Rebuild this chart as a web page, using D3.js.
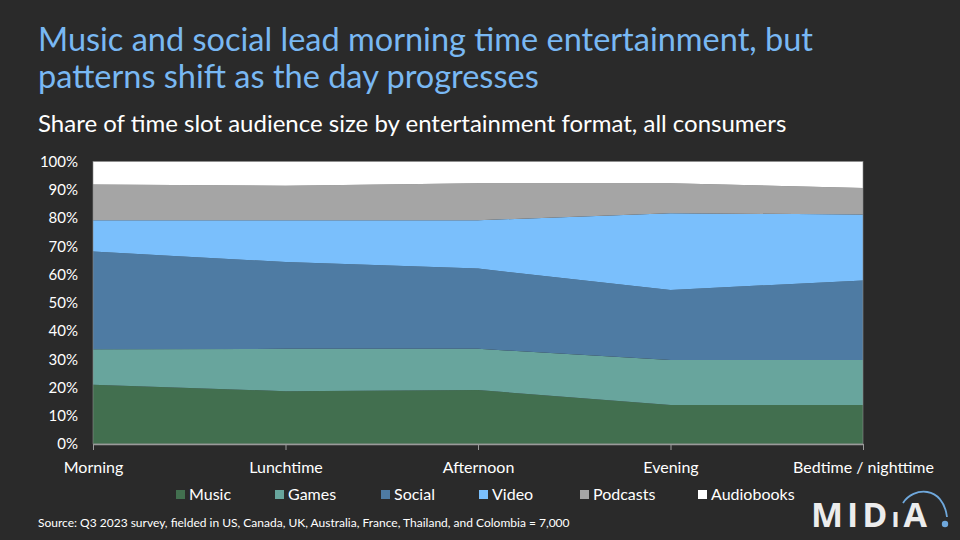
<!DOCTYPE html>
<html>
<head>
<meta charset="utf-8">
<script src="https://cdn.jsdelivr.net/npm/d3@7"></script>
<style>
  body { margin: 0; background: #2a2a2a; }
  svg { display: block; }
</style>
</head>
<body>
<div id="chart"></div>
<script>
// time slots along the x axis
const slots = ["Morning", "Lunchtime", "Afternoon", "Evening", "Bedtime / nighttime"];
const formats = ["Music", "Games", "Social", "Video", "Podcasts", "Audiobooks"];

// share of audience (%) per format, one value per slot
const music      = [21.0, 18.7, 19.1, 13.8, 13.8];
const games      = [12.5, 15.0, 14.6, 15.9, 15.9];
const social     = [34.6, 30.7, 28.4, 24.8, 28.2];
const video      = [11.1, 14.8, 17.1, 27.2, 23.3];
const podcasts   = [12.7, 12.2, 13.1, 10.6, 9.4];
const audiobooks = [8.1, 8.6, 7.7, 7.7, 9.4];

const yTicks = [0, 10, 20, 30, 40, 50, 60, 70, 80, 90, 100];

const colors = ["#426f4f", "#68a59d", "#4e7ba3", "#7abffc", "#a5a5a5", "#ffffff"];

const W = 960, H = 540;
const margin = {top: 161.5, right: 97, bottom: 96, left: 93};
const width = W - margin.left - margin.right;
const height = H - margin.top - margin.bottom;
const fontStack = "Lato, 'Noto Sans', sans-serif";

const svg = d3.select("#chart").append("svg")
  .attr("width", W)
  .attr("height", H)
  .style("font-family", fontStack);

svg.append("rect").attr("width", W).attr("height", H).attr("fill", "#2a2a2a");

// titles
const title = svg.append("text")
  .attr("x", 38).attr("y", 51)
  .style("font-size", "32.5px")
  .style("fill", "#79b8f3");
title.append("tspan").attr("x", 38).attr("dy", 0)
  .text("Music and social lead morning time entertainment, but");
title.append("tspan").attr("x", 38).attr("dy", 37)
  .text("patterns shift as the day progresses");

svg.append("text")
  .attr("x", 38).attr("y", 132)
  .style("font-size", "24px")
  .style("fill", "#ffffff")
  .text("Share of time slot audience size by entertainment format, all consumers");

const g = svg.append("g")
  .attr("transform", "translate(" + margin.left + "," + margin.top + ")");

// build rows for d3.stack
const series = [music, games, social, video, podcasts, audiobooks];
const table = slots.map((s, i) => {
  const row = {slot: s};
  formats.forEach((f, k) => { row[f] = series[k][i]; });
  return row;
});

const stacked = d3.stack().keys(formats)(table);

const xScale = d3.scalePoint().domain(slots).range([0, width]);
const yScale = d3.scaleLinear().domain([0, 100]).range([height, 0]);

const area = d3.area()
  .x(d => xScale(d.data.slot))
  .y0(d => yScale(d[0]))
  .y1(d => yScale(d[1]));

g.selectAll(".layer")
  .data(stacked)
  .join("path")
  .attr("class", "layer")
  .attr("fill", (d, i) => colors[i])
  .attr("d", area);

// thin frame on top / right / left
g.append("rect")
  .attr("width", width).attr("height", height)
  .attr("fill", "none")
  .attr("stroke", "#8a8a8a")
  .attr("stroke-width", 0.6);

// y axis labels
const yAxis = g.append("g")
  .call(d3.axisLeft(yScale).tickValues(yTicks).tickFormat(d => d + "%").tickSize(0).tickPadding(15));
yAxis.select(".domain").remove();
yAxis.selectAll("text")
  .style("font-family", fontStack)
  .style("font-size", "15px")
  .style("fill", "#ffffff");

// x axis
const xAxis = g.append("g")
  .attr("transform", "translate(0," + height + ")")
  .call(d3.axisBottom(xScale).tickSize(6).tickPadding(12).tickSizeOuter(0));
xAxis.select(".domain").attr("stroke", "#9a9a9a").attr("stroke-width", 1.5);
xAxis.selectAll(".tick line").attr("stroke", "#9a9a9a");
xAxis.selectAll("text")
  .style("font-family", fontStack)
  .style("font-size", "16px")
  .style("fill", "#ffffff");

// legend
const legendX = [176, 275, 381, 479, 580, 698];
const legend = svg.append("g").attr("transform", "translate(0,495)");
formats.forEach((f, i) => {
  const item = legend.append("g").attr("transform", "translate(" + legendX[i] + ",0)");
  item.append("rect")
    .attr("x", 0).attr("y", -5).attr("width", 9).attr("height", 9)
    .attr("fill", colors[i]);
  item.append("text")
    .attr("x", 13).attr("y", 5)
    .style("font-size", "16px")
    .style("fill", "#ffffff")
    .text(f);
});

// source note
svg.append("text")
  .attr("x", 38).attr("y", 527)
  .style("font-size", "12px")
  .style("fill", "#ffffff")
  .text("Source: Q3 2023 survey, fielded in US, Canada, UK, Australia, France, Thailand, and Colombia = 7,000");

// MIDiA logo, one text so the letters stay together
const logo = svg.append("g").attr("transform", "translate(811,527)");
const logoText = logo.append("text")
  .attr("x", 0).attr("y", 0)
  .style("font-family", "'Open Sans', 'Noto Sans', sans-serif")
  .style("font-weight", "bold")
  .style("font-size", "34px")
  .style("letter-spacing", "4px")
  .style("fill", "#ececec");
logoText.append("tspan").text("MID");
logoText.append("tspan").style("font-size", "26px").text("\u0131");
logoText.append("tspan").text("A");
logo.append("path")
  .attr("d", "M92,-24 C102,-40 132,-42 136,-10")
  .attr("fill", "none")
  .attr("stroke", "#6fa8dc")
  .attr("stroke-width", 1.8);
logo.append("circle")
  .attr("cx", 134).attr("cy", -3).attr("r", 3.2)
  .attr("fill", "#6fa8dc");
</script>
</body>
</html>
